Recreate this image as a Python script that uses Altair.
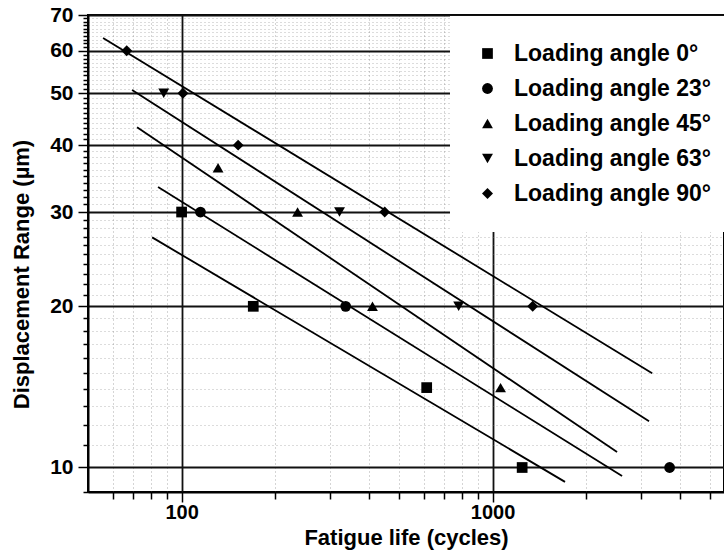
import altair as alt
import pandas as pd

# ---- data ----
series_labels = ["Loading angle 0°", "Loading angle 23°", "Loading angle 45°",
                 "Loading angle 63°", "Loading angle 90°"]
series_shapes = ["square", "circle", "triangle-up", "triangle-down", "diamond"]
series_sizes = [115, 120, 210, 210, 230]

angle0_life = [100, 170, 614, 1245]
angle0_disp = [30, 20, 14.1, 10]
angle23_life = [115, 337, 3710]
angle23_disp = [30, 20, 10]
angle45_life = [131, 236, 411, 1061]
angle45_disp = [36.3, 30, 20, 14.1]
angle63_life = [87.6, 322, 778]
angle63_disp = [50, 30, 20]
angle90_life = [66.6, 101, 152, 450, 1346]
angle90_disp = [60, 50, 40, 30, 20]

# fitted lines (start / end points)
line_start_life = [80.4, 84.0, 71.9, 69.3, 55.9]
line_start_disp = [26.9, 33.4, 43.2, 50.7, 63.4]
line_end_life = [1710, 2609, 2514, 3186, 3260]
line_end_disp = [9.40, 9.64, 10.69, 12.2, 15.0]

# axis ticks
x_major = [100, 1000]
x_minor = [60, 70, 80, 90, 200, 300, 400, 500, 600, 700, 800, 900, 2000, 3000, 4000, 5000]
y_major = [10, 20, 30, 40, 50, 60, 70]
y_minor = [v for v in range(9, 70) if v % 10 != 0]

# ---- tables ----
pts = []
for lab, xs, ys in zip(series_labels,
                       [angle0_life, angle23_life, angle45_life, angle63_life, angle90_life],
                       [angle0_disp, angle23_disp, angle45_disp, angle63_disp, angle90_disp]):
    for x, y in zip(xs, ys):
        pts.append({"series": lab, "life": x, "disp": y})
pts = pd.DataFrame(pts)

lines = []
for i in range(len(line_start_life)):
    lines.append({"line": i, "life": line_start_life[i], "disp": line_start_disp[i]})
    lines.append({"line": i, "life": line_end_life[i], "disp": line_end_disp[i]})
lines = pd.DataFrame(lines)

FONT = "Liberation Sans"
x_test = " || ".join(f"datum.value == {v}" for v in x_major)
y_test = " || ".join(f"datum.value == {v}" for v in y_major)

xscale = alt.Scale(type="log", domain=[50, 5550], nice=False)
yscale = alt.Scale(type="log", domain=[9, 70], nice=False)

x_axis = alt.Axis(
    values=sorted(x_major + x_minor),
    title="Fatigue life (cycles)",
    labelExpr=f"({x_test}) ? format(datum.value, 'd') : ''",
    labelOverlap=False, labelFlush=False,
    labelFontSize=20,
    tickSize={"condition": {"test": x_test, "value": 10}, "value": 7},
    tickWidth=1.5, tickColor="black",
    grid=True,
    gridColor={"condition": {"test": x_test, "value": "#111111"}, "value": "#888888"},
    gridDash={"condition": {"test": x_test, "value": []}, "value": [1, 3]},
    gridWidth={"condition": {"test": x_test, "value": 1.8}, "value": 1},
    gridOpacity={"condition": {"test": x_test, "value": 1}, "value": 0.7},
    domainColor="black", domainWidth=2,
    labelPadding=0,
    titleY=52, titleBaseline="alphabetic",
)

y_axis = alt.Axis(
    values=sorted(y_major + y_minor),
    title="Displacement Range (µm)",
    labelExpr=f"({y_test}) ? format(datum.value, 'd') : ''",
    labelOverlap=False, labelFlush=False,
    tickSize={"condition": {"test": y_test, "value": 10}, "value": 5},
    tickWidth=1.5, tickColor="black",
    grid=True,
    gridColor={"condition": {"test": y_test, "value": "#111111"}, "value": "#888888"},
    gridDash={"condition": {"test": y_test, "value": []}, "value": [1, 3]},
    gridWidth={"condition": {"test": y_test, "value": 1.8}, "value": 1},
    gridOpacity={"condition": {"test": y_test, "value": 1}, "value": 0.6},
    domainColor="black", domainWidth=2,
    labelPadding=5,
    titleX=-60, titleY=259, titleAngle=-90, titleBaseline="alphabetic", titleAlign="center",
)

legend_def = dict(
    orient="none", legendX=362, legendY=1, title=None,
    fillColor="white", padding=26,
    labelFont=FONT, labelFontSize=23, labelFontWeight="bold", labelColor="black",
    labelLimit=400, labelOffset=15,
    symbolFillColor="black", symbolStrokeColor="black",
    symbolStrokeWidth=0, rowPadding=11,
)

line_layer = alt.Chart(lines).mark_line(color="black", strokeWidth=1.8).encode(
    x=alt.X("life:Q", scale=xscale, axis=x_axis),
    y=alt.Y("disp:Q", scale=yscale, axis=y_axis),
    detail="line:N",
)

point_layer = alt.Chart(pts).mark_point(filled=True, color="black", opacity=1).encode(
    x=alt.X("life:Q", scale=xscale, axis=x_axis),
    y=alt.Y("disp:Q", scale=yscale, axis=y_axis),
    shape=alt.Shape(
        "series:N",
        scale=alt.Scale(domain=series_labels, range=series_shapes),
        legend=alt.Legend(**legend_def),
    ),
    size=alt.Size(
        "series:N",
        scale=alt.Scale(domain=series_labels, range=series_sizes),
        legend=alt.Legend(**legend_def),
    ),
)

chart = alt.layer(line_layer, point_layer).properties(
    width=636, height=477,
    autosize=alt.AutoSizeParams(type="none"),
    padding={"left": 88, "top": 15, "right": 0, "bottom": 60},
).configure(background="white").configure_view(
    stroke="black", strokeWidth=2
).configure_axis(
    labelFont=FONT, labelFontSize=21, labelFontWeight="bold", labelColor="black",
    titleFont=FONT, titleFontSize=22, titleFontWeight="bold", titleColor="black",
)

chart.save("out.html", embed_options={"renderer": "svg", "actions": False})
